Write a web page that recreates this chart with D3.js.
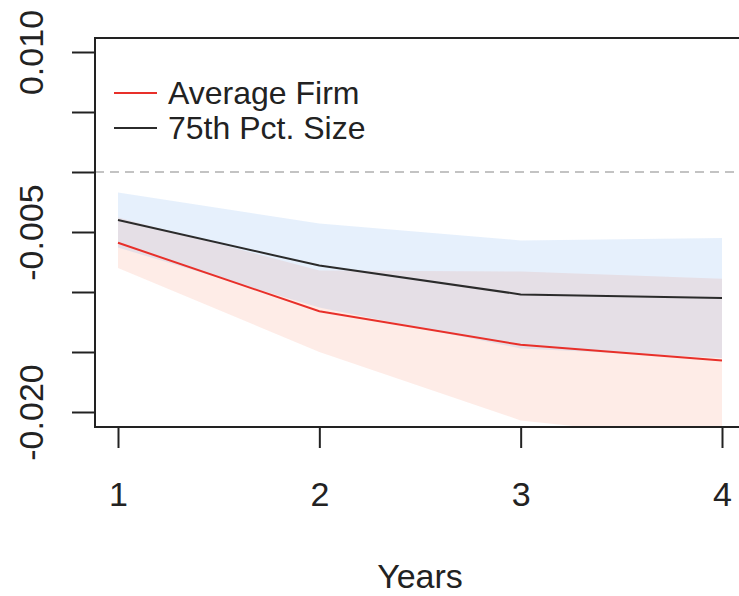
<!DOCTYPE html>
<html><head><meta charset="utf-8">
<script src="https://cdn.jsdelivr.net/npm/d3@7/dist/d3.min.js"></script>
<style>
html,body{margin:0;padding:0;background:#fff;}
svg{display:block;font-family:"Liberation Sans",Arial,sans-serif;}
</style></head>
<body><svg id="c" width="739" height="596"></svg>
<script>
const years = [1, 2, 3, 4];
const avgFirm = [-0.0059, -0.0116, -0.0144, -0.0157];
const avgFirmUpper = [-0.0038, -0.0082, -0.0083, -0.0089];
const avgFirmLower = [-0.0080, -0.0150, -0.0207, -0.0225];
const pct75 = [-0.0040, -0.0078, -0.0102, -0.0105];
const pct75Upper = [-0.0017, -0.0043, -0.0057, -0.0055];
const pct75Lower = [-0.0063, -0.0113, -0.0147, -0.0155];
const yTicks = [0.010, 0.005, 0.000, -0.005, -0.010, -0.015, -0.020];
const yTickLabels = ["0.010", "", "", "-0.005", "", "", "-0.020"];
const xTicks = [1, 2, 3, 4];
const seriesNames = ["Average Firm", "75th Pct. Size"];
const seriesColors = ["#e8302a", "#2b2b2b"];

const svg = d3.select("#c");
const mLeft = 95, mTop = 38, mBottom = 427, mRight = 760;
const x = d3.scaleLinear().domain([1, 4]).range([118, 722]);
const y = d3.scaleLinear().domain([-0.020, 0.010]).range([412, 52]);

svg.append("defs").append("clipPath").attr("id", "plotclip")
  .append("rect").attr("x", mLeft).attr("y", mTop).attr("width", mRight - mLeft).attr("height", mBottom - mTop);

const plot = svg.append("g").attr("clip-path", "url(#plotclip)");

const area = (lo, hi) => d3.area().x((d, i) => x(years[i])).y0((d, i) => y(lo[i])).y1((d, i) => y(hi[i]));

plot.append("path").datum(years).attr("d", area(avgFirmLower, avgFirmUpper))
  .attr("fill", "rgb(250,80,40)").attr("fill-opacity", 0.11);
plot.append("path").datum(years).attr("d", area(pct75Lower, pct75Upper))
  .attr("fill", "rgb(30,120,230)").attr("fill-opacity", 0.11);

// zero reference line
plot.append("line").attr("x1", mLeft).attr("x2", mRight).attr("y1", y(0)).attr("y2", y(0))
  .attr("stroke", "#b0b0b0").attr("stroke-width", 1.6).attr("stroke-dasharray", "9,6");

const line = vals => d3.line().x((d, i) => x(years[i])).y((d, i) => y(vals[i]));
plot.append("path").datum(years).attr("d", line(avgFirm)).attr("fill", "none")
  .attr("stroke", seriesColors[0]).attr("stroke-width", 2);
plot.append("path").datum(years).attr("d", line(pct75)).attr("fill", "none")
  .attr("stroke", seriesColors[1]).attr("stroke-width", 2);

// box
svg.append("rect").attr("x", mLeft).attr("y", mTop).attr("width", mRight - mLeft).attr("height", mBottom - mTop)
  .attr("fill", "none").attr("stroke", "#222").attr("stroke-width", 2);

// y axis
const yAxis = svg.append("g").attr("transform", `translate(${mLeft},0)`)
  .call(d3.axisLeft(y).tickValues(yTicks).tickSize(23).tickFormat((d, i) => yTickLabels[i]));
yAxis.select(".domain").remove();
yAxis.selectAll(".tick line").attr("stroke", "#222").attr("stroke-width", 2);
yAxis.selectAll(".tick text")
  .attr("x", null).attr("dy", null)
  .attr("transform", "translate(-52,0) rotate(-90)")
  .attr("text-anchor", "middle")
  .attr("font-size", 34).attr("font-family", "Liberation Sans, Arial, sans-serif").attr("fill", "#222");

// x axis
const xAxis = svg.append("g").attr("transform", `translate(0,${mBottom})`)
  .call(d3.axisBottom(x).tickValues(xTicks).tickSize(21).tickFormat(d3.format("d")));
xAxis.select(".domain").remove();
xAxis.selectAll(".tick line").attr("stroke", "#222").attr("stroke-width", 2);
xAxis.selectAll(".tick text").attr("y", 79).attr("dy", null)
  .attr("font-size", 34).attr("font-family", "Liberation Sans, Arial, sans-serif").attr("fill", "#222");

svg.append("text").attr("x", 420).attr("y", 588).attr("text-anchor", "middle")
  .attr("font-size", 34).attr("fill", "#222").text("Years");

// legend
const leg = svg.append("g");
seriesNames.forEach((name, i) => {
  const yy = 93 + i * 35;
  leg.append("line").attr("x1", 114).attr("x2", 157).attr("y1", yy).attr("y2", yy)
    .attr("stroke", seriesColors[i]).attr("stroke-width", 2);
  leg.append("text").attr("x", 168).attr("y", yy).attr("dy", "0.35em")
    .attr("font-size", 32).attr("fill", "#222").text(name);
});
</script></body></html>
